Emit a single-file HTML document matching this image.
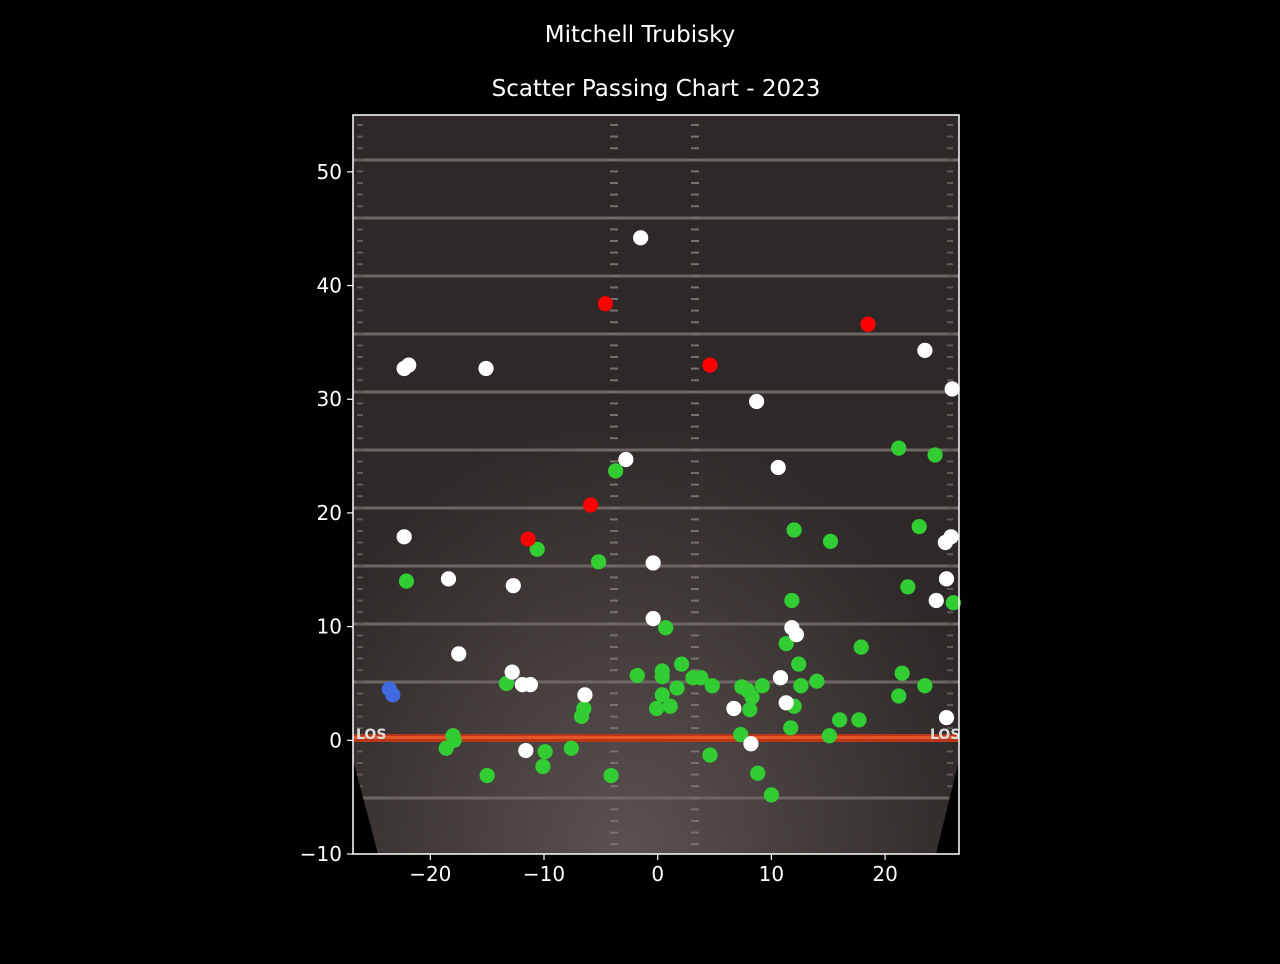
<!DOCTYPE html>
<html><head><meta charset="utf-8"><style>
body{margin:0;background:#000;width:1280px;height:960px;overflow:hidden;font-family:"DejaVu Sans","Liberation Sans",sans-serif}
</style></head><body>
<svg id="chart" width="1280" height="960" xmlns="http://www.w3.org/2000/svg">
<defs>
<radialGradient id="glow" cx="0.45" cy="1" r="0.6">
<stop offset="0" stop-color="#5a5250"/><stop offset="1" stop-color="#2e2828"/>
</radialGradient>
</defs>
<text x="640" y="42" fill="#fff" font-size="23" text-anchor="middle">Mitchell Trubisky</text>
<text x="656" y="96" fill="#fff" font-size="23" text-anchor="middle">Scatter Passing Chart - 2023</text>
<g id="field"></g>
<g id="marks"></g>
<g id="axes"></g>
</svg>
<script>
const xTicks=[-20,-10,0,10,20];
const yTicks=[-10,0,10,20,30,40,50];
const whiteX=[-1.5,-22.3,-21.9,-15.1,23.5,25.9,8.7,-2.8,10.6,-22.3,25.3,25.8,-18.4,-12.7,-0.4,25.4,24.5,-0.4,11.8,12.2,-17.5,-12.8,-11.9,-11.2,-6.4,10.8,11.3,6.7,25.4,8.2,-11.6];
const whiteY=[44.2,32.7,33.0,32.7,34.3,30.9,29.8,24.7,24.0,17.9,17.4,17.9,14.2,13.6,15.6,14.2,12.3,10.7,9.9,9.3,7.6,6.0,4.9,4.9,4.0,5.5,3.3,2.8,2.0,-0.3,-0.9];
const redX=[-4.6,18.5,4.6,-5.9,-11.4];
const redY=[38.4,36.6,33.0,20.7,17.7];
const blueX=[-23.6,-23.3];
const blueY=[4.5,4.0];
const greenX=[-3.7,21.2,24.4,-10.6,-5.2,12.0,15.2,23.0,-22.1,22.0,26.0,11.8,0.7,11.3,17.9,12.4,2.1,-1.8,0.4,0.4,3.1,3.8,1.7,4.8,7.4,7.9,9.2,14.0,12.6,-13.3,21.5,23.5,21.2,0.4,-6.5,-6.7,-0.1,1.1,8.1,8.3,12.0,16.0,17.7,11.7,15.1,7.3,-18.0,-17.9,-18.6,-9.9,-7.6,-10.1,-15.0,-4.1,4.6,8.8,10.0];
const greenY=[23.7,25.7,25.1,16.8,15.7,18.5,17.5,18.8,14.0,13.5,12.1,12.3,9.9,8.5,8.2,6.7,6.7,5.7,6.1,5.6,5.5,5.5,4.6,4.8,4.7,4.4,4.8,5.2,4.8,5.0,5.9,4.8,3.9,4.0,2.8,2.1,2.8,3.0,2.7,3.8,3.0,1.8,1.8,1.1,0.4,0.5,0.4,0.0,-0.7,-1.0,-0.7,-2.3,-3.1,-3.1,-1.3,-2.9,-4.8];
const NS='http://www.w3.org/2000/svg';
const L=353,R=959,T=115,B=854,X0=-26.8,X1=26.5,Y0=-10,Y1=55;
const sx=v=>L+(v-X0)/(X1-X0)*(R-L);
const sy=v=>B-(v-Y0)/(Y1-Y0)*(B-T);
function mk(tag,attrs,parent){const e=document.createElementNS(NS,tag);for(const k in attrs)e.setAttribute(k,attrs[k]);parent.appendChild(e);return e;}
const field=document.getElementById('field');
mk('rect',{x:L,y:T,width:R-L,height:B-T,fill:'url(#glow)'},field);
for(let p=160;p<800;p+=58){if(Math.abs(p-741)<20)continue;mk('rect',{x:L,y:p-1.5,width:R-L,height:3,fill:'#6e6664'},field);}
mk('rect',{x:L,y:798-1.5,width:R-L,height:3,fill:'#6e6664'},field);
for(let p=124;p<850;p+=11.6){[614,695].forEach(h=>mk('rect',{x:h-4,y:p,width:8,height:2,fill:'#77706c'},field));[360,950].forEach(h=>mk('rect',{x:h-3,y:p,width:6,height:2,fill:'#605856'},field));}
mk('rect',{x:L,y:734,width:R-L,height:8,fill:'#b8361a'},field);
mk('rect',{x:L,y:736,width:R-L,height:3,fill:'#e2562a'},field);
mk('text',{x:356,y:739,fill:'#ddd','font-size':14,'font-weight':'bold'},field).textContent='LOS';
mk('text',{x:930,y:739,fill:'#ddd','font-size':14,'font-weight':'bold'},field).textContent='LOS';
mk('polygon',{points:`${L},760 ${L},${B} 378,${B}`,fill:'#000'},field);
mk('polygon',{points:`${R},760 ${R},${B} 936,${B}`,fill:'#000'},field);
const marks=document.getElementById('marks');
function series(xs,ys,color,name){for(let i=0;i<xs.length;i++){const c=mk('circle',{cx:sx(xs[i]),cy:sy(ys[i]),r:7.6,fill:color},marks);

}}
series(greenX,greenY,'#32cd32','completion-point');
series(whiteX,whiteY,'#ffffff','incompletion-point');
series(redX,redY,'#ff0000','interception-point');
series(blueX,blueY,'#4169e1','touchdown-point');
const axes=document.getElementById('axes');
mk('rect',{x:L,y:T,width:R-L,height:B-T,fill:'none',stroke:'#fff','stroke-width':1.5},axes);
xTicks.forEach(v=>{const x=sx(v);mk('line',{x1:x,x2:x,y1:B,y2:B+6,stroke:'#fff','stroke-width':1.2},axes);
const t=mk('text',{x:x,y:B+27,fill:'#fff','font-size':20,'text-anchor':'middle'},axes);t.textContent=v<0?'\u2212'+(-v):v;

});
yTicks.forEach(v=>{const y=sy(v);mk('line',{x1:L-6,x2:L,y1:y,y2:y,stroke:'#fff','stroke-width':1.2},axes);
const t=mk('text',{x:L-11,y:y+7,fill:'#fff','font-size':20,'text-anchor':'end'},axes);t.textContent=v<0?'\u2212'+(-v):v;

});
</script>
</body></html>
